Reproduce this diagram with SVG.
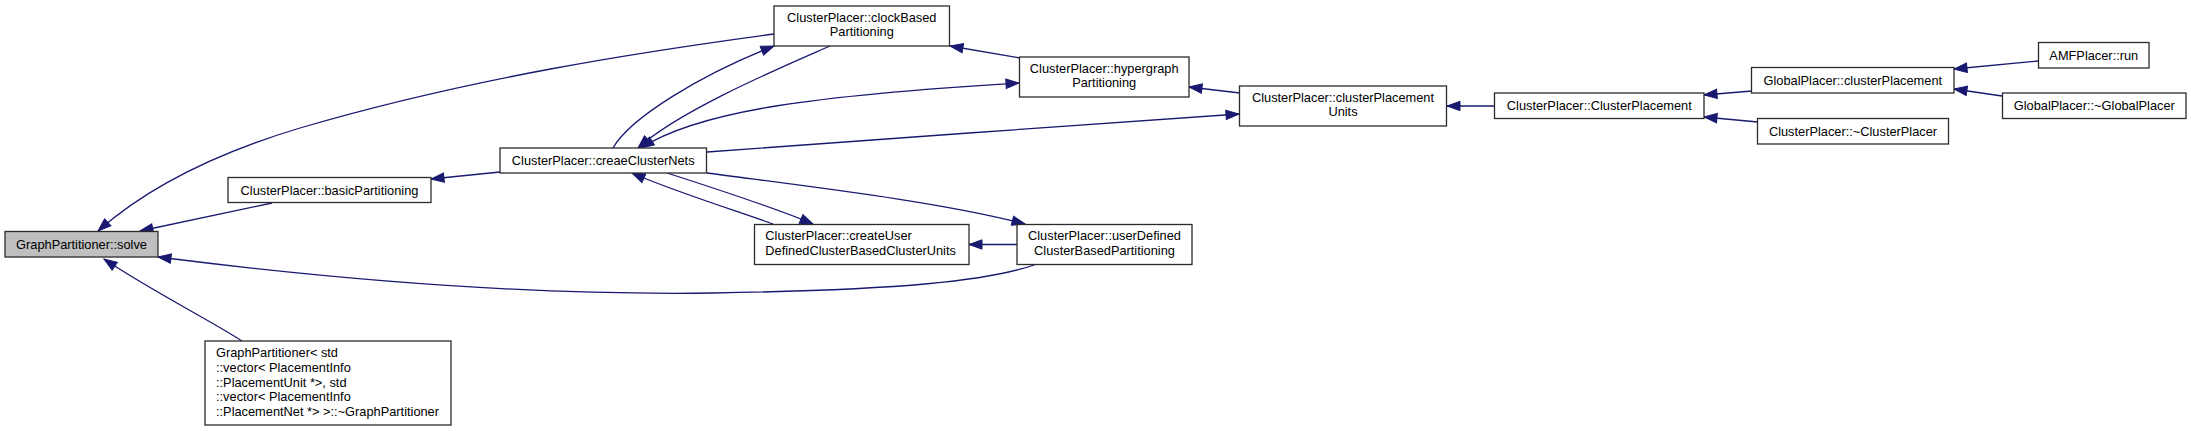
<svg xmlns="http://www.w3.org/2000/svg" width="2191" height="431" viewBox="0 0 2191 431">
<style>
.n rect{fill:#ffffff;stroke:#2b2b2b;stroke-width:1.3}
.n text{font-family:"Liberation Sans",Arial,sans-serif;font-size:12.8px;fill:#000;text-anchor:middle}
.n text.l{text-anchor:start}
.e path{fill:none;stroke:#191970;stroke-width:1.3;marker-end:url(#ah)}
.e path.both{marker-start:url(#ahs)}
</style>
<defs>
<marker id="ah" markerUnits="userSpaceOnUse" markerWidth="14" markerHeight="10" refX="13" refY="4.7" orient="auto" overflow="visible">
<path d="M0,0 L13,4.7 L0,9.4 z" fill="#191970" stroke="#191970" stroke-width="1"/>
</marker>
<marker id="ahs" markerUnits="userSpaceOnUse" markerWidth="14" markerHeight="10" refX="0" refY="4.7" orient="auto" overflow="visible">
<path d="M13,0 L0,4.7 L13,9.4 z" fill="#191970" stroke="#191970" stroke-width="1"/>
</marker>
</defs>
<rect width="2191" height="431" fill="#ffffff"/>
<g id="connectors" class="e">
<path d="M272,203 L140,231"/>
<path d="M774,34 C640,52 470,78 300,128 C220,152 150,185 98,231"/>
<path d="M1037,264 C990,281 900,290 713,293 C500,296 300,275 158,257"/>
<path d="M242,341 C215,323 150,290 104,259"/>
<path d="M500,172 L431,179"/>
<path d="M613,148 C630,118 700,75 774,46"/>
<path d="M830,46 C780,68 680,110 638,148"/>
<path class="both" d="M641,148 C700,110 820,95 1019,83"/>
<path d="M1020,58 L950,46"/>
<path d="M1240,93 L1189,87"/>
<path d="M707,152 C850,142 1100,123 1239,114"/>
<path d="M773,224 C740,212 670,190 632,173"/>
<path d="M667,173 C720,190 780,210 813,224"/>
<path d="M707,173 C820,188 940,202 1025,224"/>
<path d="M1017,244.5 L969,244.5"/>
<path d="M1494,106 L1447,106"/>
<path d="M1752,91 L1704,95"/>
<path d="M1758,122 L1704,117"/>
<path d="M2038,61 L1954,69"/>
<path d="M2002,96 L1954,89"/>
</g>
<g id="solve" class="n"><rect x="5" y="231.5" width="153" height="25.5" style="fill:#bfbfbf"/><text x="81.5" y="248.5">GraphPartitioner::solve</text></g>
<g id="basicPartitioning" class="n"><rect x="228" y="177.5" width="203" height="25"/><text x="329.5" y="194.5">ClusterPlacer::basicPartitioning</text></g>
<g id="creaeClusterNets" class="n"><rect x="500" y="148" width="206.5" height="25"/><text x="603.2" y="165">ClusterPlacer::creaeClusterNets</text></g>
<g id="graphPartitionerDtor" class="n"><rect x="205" y="341" width="246" height="84"/>
<text class="l" x="216" y="357">GraphPartitioner&lt; std</text>
<text class="l" x="216" y="371.8">::vector&lt; PlacementInfo</text>
<text class="l" x="216" y="386.6">::PlacementUnit *&gt;, std</text>
<text class="l" x="216" y="401.4">::vector&lt; PlacementInfo</text>
<text class="l" x="216" y="416.2">::PlacementNet *&gt; &gt;::~GraphPartitioner</text></g>
<g id="clockBasedPartitioning" class="n"><rect x="774" y="6" width="175.5" height="40"/><text x="861.8" y="21.6">ClusterPlacer::clockBased</text><text x="861.8" y="36.4">Partitioning</text></g>
<g id="hypergraphPartitioning" class="n"><rect x="1019.5" y="57" width="169.5" height="40"/><text x="1104.2" y="72.6">ClusterPlacer::hypergraph</text><text x="1104.2" y="87.2">Partitioning</text></g>
<g id="clusterPlacementUnits" class="n"><rect x="1239.5" y="86" width="207" height="40"/><text x="1343" y="101.6">ClusterPlacer::clusterPlacement</text><text x="1343" y="116.2">Units</text></g>
<g id="createUserDefinedClusterBasedClusterUnits" class="n"><rect x="754.5" y="224.5" width="214.5" height="40"/><text class="l" x="765.3" y="240.3">ClusterPlacer::createUser</text><text class="l" x="765.3" y="254.7">DefinedClusterBasedClusterUnits</text></g>
<g id="userDefinedClusterBasedPartitioning" class="n"><rect x="1017" y="224.5" width="175" height="40"/><text x="1104.5" y="240.3">ClusterPlacer::userDefined</text><text x="1104.5" y="254.7">ClusterBasedPartitioning</text></g>
<g id="ClusterPlacement" class="n"><rect x="1494.5" y="93" width="209.5" height="25.5"/><text x="1599.3" y="110.3">ClusterPlacer::ClusterPlacement</text></g>
<g id="globalClusterPlacement" class="n"><rect x="1751.5" y="67.5" width="202.5" height="25.5"/><text x="1852.8" y="84.8">GlobalPlacer::clusterPlacement</text></g>
<g id="clusterPlacerDtor" class="n"><rect x="1757.5" y="118.5" width="191" height="25.5"/><text x="1853" y="135.8">ClusterPlacer::~ClusterPlacer</text></g>
<g id="amfRun" class="n"><rect x="2038.5" y="42.5" width="110.5" height="25.5"/><text x="2093.8" y="59.8">AMFPlacer::run</text></g>
<g id="globalPlacerDtor" class="n"><rect x="2002.5" y="93" width="183.5" height="25.5"/><text x="2094.3" y="110.3">GlobalPlacer::~GlobalPlacer</text></g>
</svg>
